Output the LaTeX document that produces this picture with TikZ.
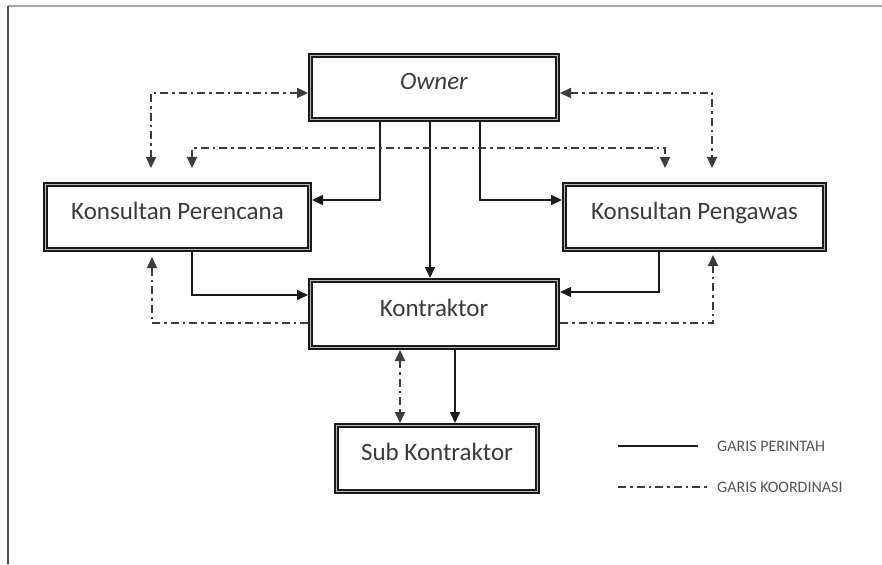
\documentclass[tikz,border=0pt]{standalone}
\usepackage{fontspec}
\setmainfont{Carlito}
\usetikzlibrary{arrows.meta}
\definecolor{txt}{HTML}{3A3A3A}
\definecolor{ln}{HTML}{1A1A1A}
\tikzset{
  box/.style={draw=ln, line width=1.6pt, double=gray!55, double distance=1.4pt,
    fill=white, outer sep=2.3pt, inner sep=0pt, font=\fontsize{25}{28}\selectfont,
    text=txt, text height=17pt, text depth=13pt},
  cmd/.style={draw=ln, line width=1.5pt, -{Triangle[length=11pt,width=10pt]}},
  cmdline/.style={draw=ln, line width=1.5pt},
  coord/.style={draw=ln!85, line width=2.1pt, dash pattern=on 8pt off 4pt on 2.5pt off 4pt},
  tip/.style={-{Triangle[length=11pt,width=10pt]}},
  tips/.style={{Triangle[length=11pt,width=10pt]}-{Triangle[length=11pt,width=10pt]}},
  legtext/.style={anchor=west, inner sep=0pt, text=gray!65!black, font=\fontsize{16}{18}\selectfont}
}
\begin{document}
\begin{tikzpicture}[x=1pt,y=-1pt]
\useasboundingbox (0,0) rectangle (882,564);
% frame
\coordinate (f1) at (8,564);
\coordinate (f2) at (8,6);
\coordinate (f3) at (882,6);
\draw[gray!70, line width=1.5pt] (f2) -- (f3);
\draw[black!70, line width=2.6pt] (f1) -- (f2);

% boxes
\node[box, minimum width=247.4pt, minimum height=64.4pt] (owner) at (434,87.5) {\itshape Owner};
\node[box, minimum width=264.4pt, minimum height=65.4pt] (per) at (177.5,217) {Konsultan Perencana};
\node[box, minimum width=260.4pt, minimum height=65.4pt] (peng) at (694.5,217) {Konsultan Pengawas};
\node[box, minimum width=247.4pt, minimum height=67.4pt] (kon) at (434,314) {Kontraktor};
\node[box, minimum width=201.4pt, minimum height=66.4pt] (sub) at (437,458.5) {Sub Kontraktor};

% helper coordinates
\coordinate (cPerA) at (151,168);
\coordinate (cPengA) at (712,168);
\coordinate (cPerB) at (192,168);
\coordinate (cPengB) at (665,168);
\coordinate (cPerC) at (152,257);
\coordinate (cPengC) at (713,255);
\coordinate (cX400) at (400,400);
\coordinate (cX455) at (455,400);

% command lines (solid)
\draw[cmd] ([xshift=-54pt]owner.south) |- ([yshift=17pt]per.east);
\draw[cmd] ([xshift=46pt]owner.south) |- ([yshift=17pt]peng.west);
\draw[cmd] ([xshift=-4pt]owner.south) -- ([xshift=-4pt]kon.north);
\draw[cmd] ([xshift=14.5pt]per.south) |- ([yshift=19pt]kon.west);
\draw[cmd] ([xshift=-35.5pt]peng.south) |- ([yshift=22pt]kon.east);
\draw[cmd] (kon.south -| cX455) -- (sub.north -| cX455);

% coordination lines (dash-dot)
\draw[coord, tips] ([yshift=-5.5pt]owner.west) -| (cPerA);
\draw[coord, tips] ([yshift=-5.5pt]owner.east) -| (cPengA);
\draw[coord, tips] (cPerB) -- ++(0,-20) -| (cPengB);
\draw[coord, tip] ([yshift=-9pt]kon.west) -| (cPerC);
\draw[coord, tip] ([yshift=-9pt]kon.east) -| (cPengC);
\draw[coord, tips] (kon.south -| cX400) -- (sub.north -| cX400);

% legend
\coordinate (l1a) at (618,446);
\coordinate (l1b) at (698,446);
\coordinate (l2a) at (618,487);
\coordinate (l2b) at (707,487);
\draw[cmdline] (l1a) -- (l1b);
\draw[coord] (l2a) -- (l2b);
\node[legtext] (leg1) at (717,446) {GARIS PERINTAH};
\node[legtext] (leg2) at (717,487) {GARIS KOORDINASI};
\end{tikzpicture}
\end{document}
